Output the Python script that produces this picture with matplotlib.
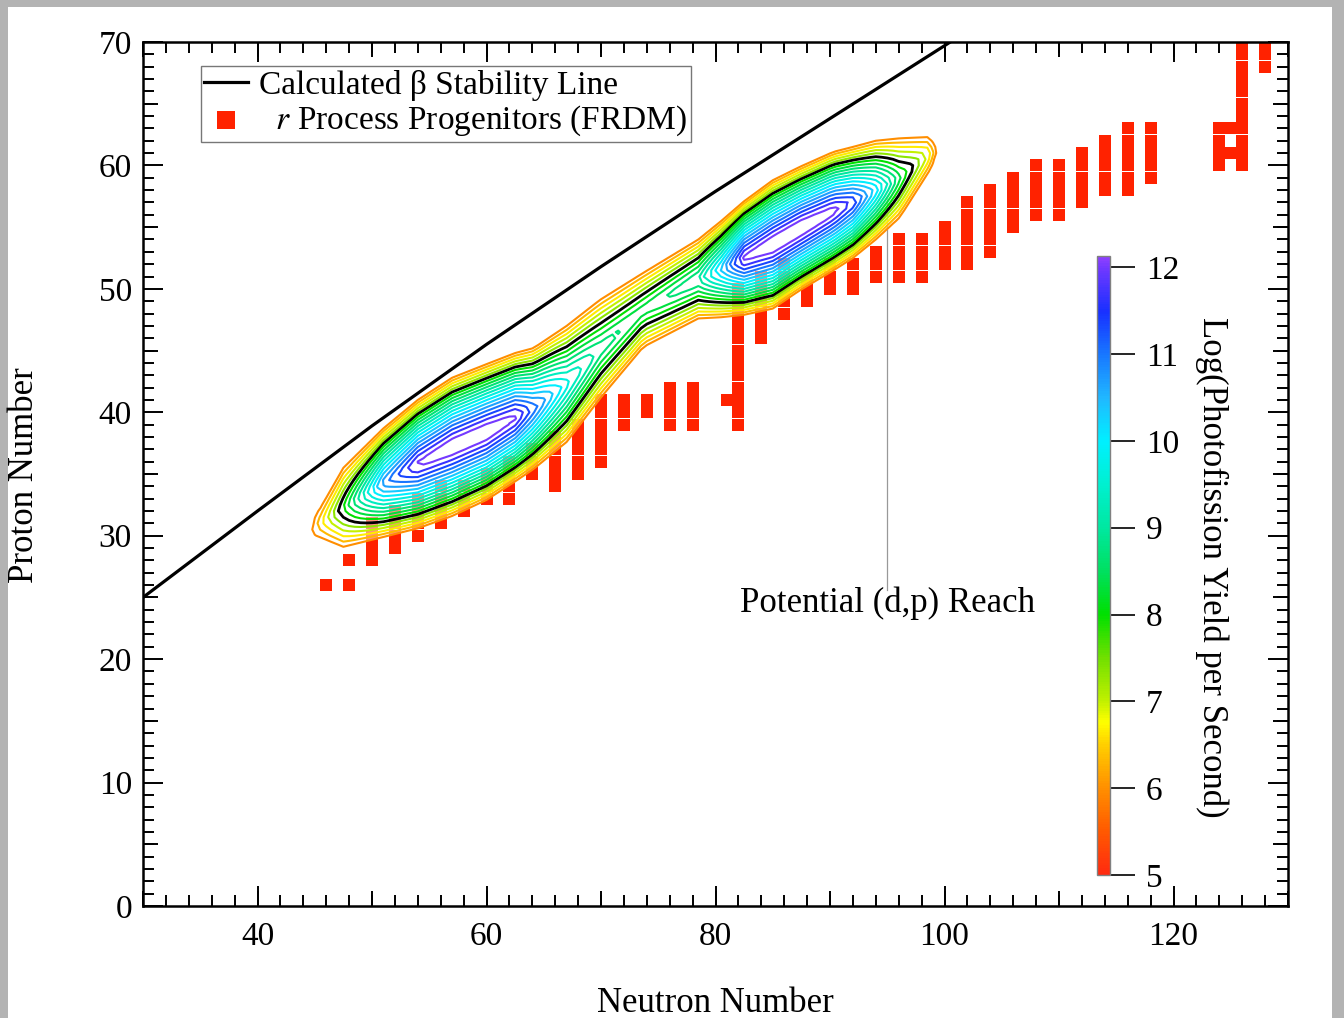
import numpy as np
import matplotlib
matplotlib.use("Agg")
import matplotlib.pyplot as plt
import matplotlib.cm as cm
from matplotlib.colors import LinearSegmentedColormap, Normalize
from matplotlib.patches import Rectangle
from matplotlib.ticker import MultipleLocator

plt.rcParams['font.family'] = ['Liberation Serif', 'DejaVu Serif']
plt.rcParams['mathtext.fontset'] = 'stix'

# calculated beta stability line
stab_n = [30, 40, 50, 60, 70, 80, 90, 100, 103]
stab_z = [25.0, 32.0, 38.9, 45.5, 51.8, 57.9, 63.8, 69.7, 71.5]

# r-process progenitor columns: neutron number, lowest and highest proton number
col_n   = [46, 48, 48, 50, 52, 54, 56, 58, 60, 62, 64, 66, 68, 70, 72, 74, 76, 78, 81, 82,
           84, 86, 88, 90, 92, 94, 96, 98, 100, 102, 104, 106, 108, 110, 112, 114, 116, 118,
           124, 125, 125, 126, 128]
col_zlo = [26, 26, 28, 28, 29, 30, 31, 32, 33, 33, 35, 34, 35, 36, 39, 40, 39, 39, 41, 39,
           46, 48, 49, 50, 50, 51, 51, 51, 52, 52, 53, 55, 56, 56, 57, 58, 58, 59,
           60, 61, 63, 60, 68]
col_zhi = [26, 26, 28, 31, 32, 33, 34, 34, 35, 36, 37, 38, 39, 41, 41, 41, 42, 42, 41, 50,
           51, 52, 51, 52, 52, 53, 54, 54, 55, 57, 58, 59, 60, 60, 61, 62, 63, 63,
           63, 61, 63, 71, 71]

# photofission yield ridge: neutron number, centre Z, half width of outer contour, peak log yield
ridge_n    = [43.0, 44.6, 47.5, 51.0, 54.0, 57.0, 60.0, 62.5, 64.1, 67.0, 69.9, 73.7,
              78.5, 80.5, 82.5, 85.0, 87.4, 90.3, 92.0, 94.0, 96.1, 98.5, 99.4, 101.0]
ridge_z    = [29.6, 30.5, 32.3, 34.3, 35.8, 37.2, 38.4, 39.6, 40.3, 42.3, 45.1, 48.3,
              50.8, 51.6, 52.5, 53.6, 54.9, 56.3, 57.0, 58.0, 59.0, 60.8, 61.2, 62.0]
ridge_hw   = [0.3, 0.3, 3.2, 4.4, 5.2, 5.6, 5.5, 5.2, 4.9, 4.7, 4.0, 3.0,
              3.2, 3.9, 4.6, 5.2, 5.0, 4.8, 4.5, 4.0, 3.2, 1.5, 0.3, 0.3]
ridge_peak = [5.0, 5.9, 8.0, 10.8, 12.1, 12.4, 12.4, 12.1, 11.2, 9.8, 8.9, 8.5,
              9.0, 10.4, 12.1, 12.45, 12.45, 12.2, 11.6, 10.2, 8.4, 7.0, 5.9, 5.0]

levels = np.linspace(6.0, 12.0, 19)
black_index = 5

reach_n = 95
reach_z = [25.6, 57.5]

cb_vals = [5.0, 5.5, 6.0, 6.5, 6.75, 7.0, 7.5, 8.0, 8.5, 9.0, 9.5, 10.0, 10.5, 11.0, 11.5, 12.0, 12.13]
cb_cols = ['#ff2a10', '#ff5a00', '#ff9000', '#ffd000', '#ffff00', '#c0f000', '#70e000', '#00e000',
           '#00e060', '#00e8a0', '#00f0d0', '#00f0ff', '#20b8ff', '#1878ff', '#1830ff', '#7038ff', '#9040ff']

vmin, vmax = 5.0, 12.13
cmap = LinearSegmentedColormap.from_list(
    'yield', [((v - vmin) / (vmax - vmin), c) for v, c in zip(cb_vals, cb_cols)])
norm = Normalize(vmin, vmax)

fig = plt.figure(figsize=(13.44, 10.18), dpi=100)
fig.patch.set_facecolor('#b3b3b3')
fig.patches.append(Rectangle((8 / 1344, 0), 1324 / 1344, 1011 / 1018, transform=fig.transFigure,
                             facecolor='white', edgecolor='none', zorder=-10))

ax = fig.add_axes([143 / 1344, 1 - 906 / 1018, 1145 / 1344, 864 / 1018])
ax.set_xlim(30, 130)
ax.set_ylim(0, 70)

# progenitors
pn, pz = [], []
for n, lo, hi in zip(col_n, col_zlo, col_zhi):
    for z in range(lo, hi + 1):
        pn.append(n)
        pz.append(z)
prog = ax.scatter(pn, pz, marker='s', s=68, color='#ff2200', linewidths=0, zorder=2,
                  label='  $r$ Process Progenitors (FRDM)')

# yield field
NN, ZZ = np.meshgrid(np.arange(40, 103, 0.5), np.arange(24, 66, 0.5))
zc = np.interp(NN, ridge_n, ridge_z)
hw = np.interp(NN, ridge_n, ridge_hw)
pk = np.interp(NN, ridge_n, ridge_peak)
field = pk - np.maximum(pk - 6.0, 0.2) * np.abs((ZZ - zc) / hw) ** 1.3

ax.contourf(NN, ZZ, field, levels=[6.0, 50], colors='white', alpha=0.5, zorder=3)
line_cols = ['black' if i == black_index else cmap(norm(l)) for i, l in enumerate(levels)]
line_w = [2.0 if i == black_index else 1.5 for i in range(len(levels))]
ax.contour(NN, ZZ, field, levels=levels, colors=line_cols, linewidths=line_w, zorder=4)

ax.plot([reach_n, reach_n], reach_z, color='#999999', lw=0.9, zorder=1)
ax.text(reach_n, 24.5, 'Potential (d,p) Reach', ha='center', va='center', fontsize=25)

stab, = ax.plot(stab_n, stab_z, color='black', lw=2.3, zorder=5,
                label='Calculated \u03b2 Stability Line')

leg = ax.legend(handles=[stab, prog], loc='upper left', bbox_to_anchor=(0.0507, 0.972),
                borderaxespad=0, fontsize=24, frameon=True, fancybox=False, handlelength=1.3,
                handletextpad=0.35, borderpad=0.1, labelspacing=0.1, markerscale=1.5)
leg.get_frame().set_edgecolor('#555555')
leg.get_frame().set_linewidth(1.0)

# ticks
for s in ax.spines.values():
    s.set_linewidth(1.8)
ax.set_xticks([40, 60, 80, 100, 120])
ax.set_yticks(range(0, 71, 10))
ax.xaxis.set_minor_locator(MultipleLocator(2))
ax.yaxis.set_minor_locator(MultipleLocator(1))
ax.tick_params(which='both', direction='in', top=True, right=True, width=1.4, labelsize=24)
ax.tick_params(which='major', length=14.4)
ax.tick_params(which='minor', length=7.9)
ax.tick_params(axis='x', pad=11)
ax.tick_params(axis='y', pad=8)

for loc in ['bottom', 'top']:
    sec = ax.secondary_xaxis(loc)
    sec.set_xticks(range(30, 131, 10))
    sec.tick_params(direction='in', length=10.8, width=1.4, labelbottom=False, labeltop=False)
    sec.spines[loc].set_visible(False)
for loc in ['left', 'right']:
    sec = ax.secondary_yaxis(loc)
    sec.set_yticks(range(5, 70, 10))
    sec.tick_params(direction='in', length=10.8, width=1.4, labelleft=False, labelright=False)
    sec.spines[loc].set_visible(False)

fig.text(25 / 1344, 1 - 475 / 1018, 'Proton Number', rotation=90, ha='center', va='center', fontsize=25)
fig.text(715 / 1344, 1 - 1003 / 1018, 'Neutron Number', ha='center', va='center', fontsize=25)

# colorbar
cax = fig.add_axes([1097 / 1344, 1 - 875 / 1018, 13 / 1344, (875 - 256) / 1018])
cb = fig.colorbar(cm.ScalarMappable(norm=norm, cmap=cmap), cax=cax, ticks=range(5, 13))
cax.tick_params(direction='out', length=18, width=1.2, labelsize=24, pad=8)
cb.outline.set_edgecolor('#808080')
cb.outline.set_linewidth(1.0)
fig.text(1212 / 1344, 1 - 567 / 1018, 'Log(Photofission Yield per Second)', rotation=-90,
         ha='center', va='center', fontsize=25)

fig.savefig('out.png', dpi=100, facecolor=fig.get_facecolor())
